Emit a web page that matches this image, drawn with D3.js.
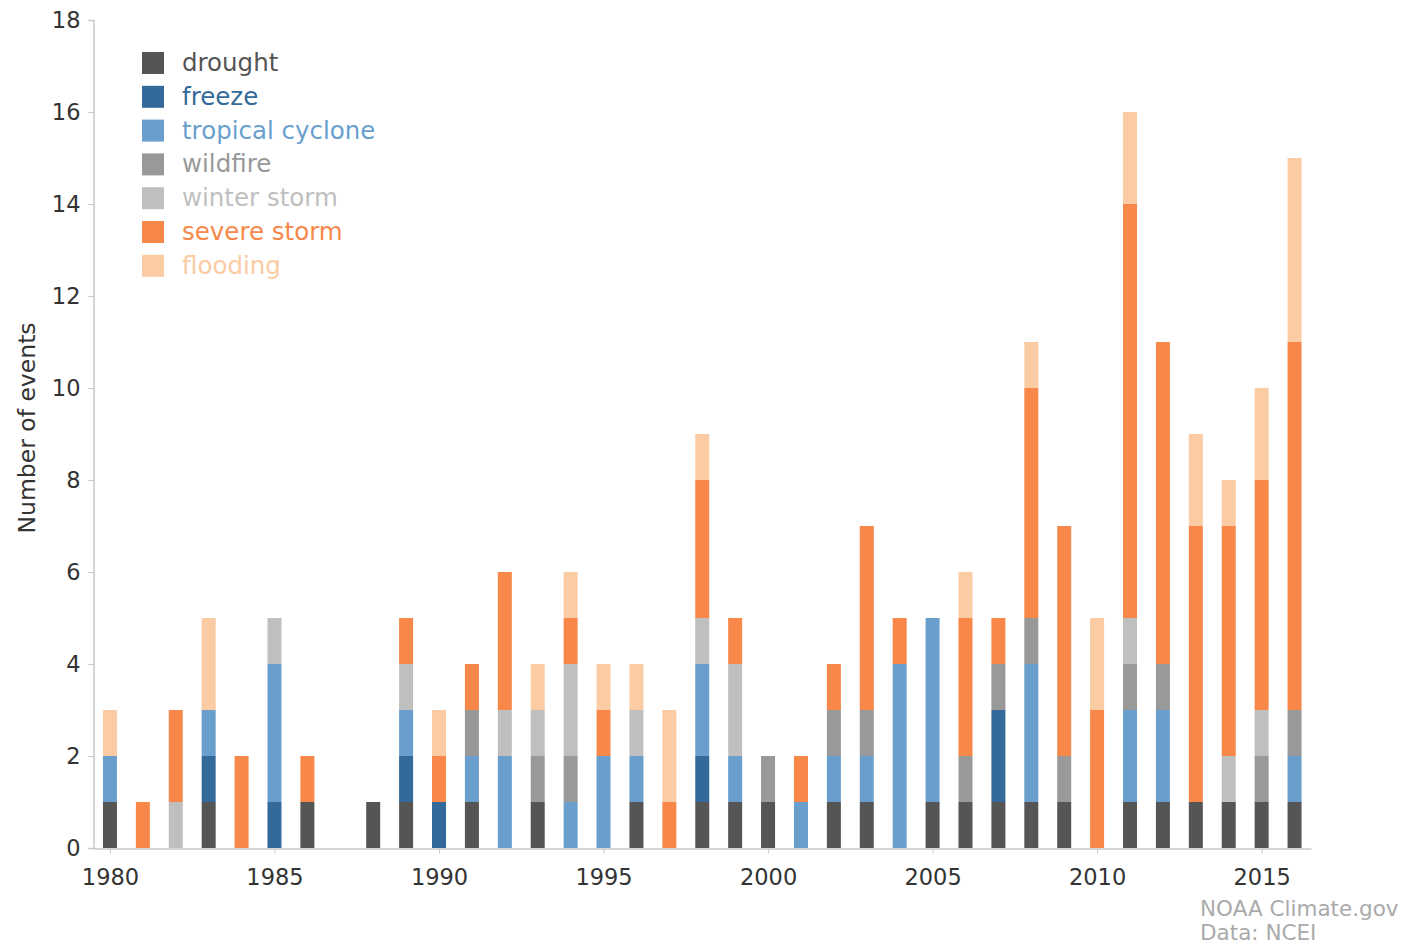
<!DOCTYPE html>
<html><head><meta charset="utf-8">
<script src="https://cdn.jsdelivr.net/npm/d3@7"></script>
<style>body{margin:0;background:#fff}svg{display:block}</style>
</head><body><svg id="c" width="1405" height="944"></svg>
<script>
const years = d3.range(1980, 2017);
const seriesNames = ["drought","freeze","tropical cyclone","wildfire","winter storm","severe storm","flooding"];
const seriesColors = ["#555555","#336a9a","#6a9fcd","#999999","#bfbfbf","#f8874a","#fbcba3"];
const drought    = [1,0,0,1,0,0,1,0,1,1,0,1,0,1,0,0,1,0,1,1,1,0,1,1,0,1,1,1,1,1,0,1,1,1,1,1,1];
const freeze     = [0,0,0,1,0,1,0,0,0,1,1,0,0,0,0,0,0,0,1,0,0,0,0,0,0,0,0,2,0,0,0,0,0,0,0,0,0];
const tropical   = [1,0,0,1,0,3,0,0,0,1,0,1,2,0,1,2,1,0,2,1,0,1,1,1,4,4,0,0,3,0,0,2,2,0,0,0,1];
const wildfire   = [0,0,0,0,0,0,0,0,0,0,0,1,0,1,1,0,0,0,0,0,1,0,1,1,0,0,1,1,1,1,0,1,1,0,0,1,1];
const winter     = [0,0,1,0,0,1,0,0,0,1,0,0,1,1,2,0,1,0,1,2,0,0,0,0,0,0,0,0,0,0,0,1,0,0,1,1,0];
const severe     = [0,1,2,0,2,0,1,0,0,1,1,1,3,0,1,1,0,1,3,1,0,1,1,4,1,0,3,1,5,5,3,9,7,6,5,5,8];
const flooding   = [1,0,0,2,0,0,0,0,0,0,1,0,0,1,1,1,1,2,1,0,0,0,0,0,0,0,1,0,1,0,2,2,0,2,1,2,4];
const yTicks = [0,2,4,6,8,10,12,14,16,18];
const xTicks = [1980,1985,1990,1995,2000,2005,2010,2015];

const seriesVals = [drought, freeze, tropical, wildfire, winter, severe, flooding];
const table = years.map((y,i)=>{const o={year:y}; seriesNames.forEach((n,k)=>o[n]=seriesVals[k][i]); return o;});
const stack = d3.stack().keys(seriesNames)(table);

const svg = d3.select("#c");
const x = d3.scaleLinear().domain([1979.5, 2016.5]).range([93.5, 1311]);
const y = d3.scaleLinear().domain([0, 18]).range([848, 20]);
const font = "'DejaVu Sans', Verdana, sans-serif";
const bw = 14;

const g = svg.append("g");
stack.forEach((s,k)=>{
  g.selectAll(null).data(s).enter().append("rect")
    .filter(d=>d[1]>d[0])
    .attr("x", d=>x(d.data.year)-bw/2)
    .attr("width", bw)
    .attr("y", d=>y(d[1]))
    .attr("height", d=>y(d[0])-y(d[1]))
    .attr("fill", seriesColors[k]);
});

// Y axis
const ya = svg.append("g").attr("transform","translate(93.5,0)")
  .call(d3.axisLeft(y).tickValues(yTicks).tickSize(5).tickPadding(8));
ya.select(".domain").attr("stroke","#c8c8c8").attr("stroke-width",1.5);
ya.selectAll(".tick line").attr("stroke","#c8c8c8");
ya.selectAll("text").attr("font-family",font).attr("font-size",22.5).attr("fill","#333");

// X axis
const xa = svg.append("g").attr("transform","translate(0,848.5)")
  .call(d3.axisBottom(x).tickValues(xTicks).tickFormat(d3.format("d")).tickSize(5).tickPadding(16).tickSizeOuter(0));
xa.select(".domain").attr("stroke","#c8c8c8").attr("stroke-width",1.5);
xa.selectAll(".tick line").attr("stroke","#c8c8c8");
xa.selectAll("text").attr("font-family",font).attr("font-size",22.5).attr("fill","#333");

// Y label
svg.append("text").attr("transform","translate(35,428) rotate(-90)")
  .attr("text-anchor","middle").attr("font-family",font).attr("font-size",23.5).attr("fill","#333")
  .text("Number of events");

// Legend
const lg = svg.append("g");
seriesNames.forEach((n,k)=>{
  const yy = 63 + k*33.8;
  lg.append("rect").attr("x",142).attr("y",yy-11).attr("width",22).attr("height",22).attr("fill",seriesColors[k]);
  lg.append("text").attr("x",182).attr("y",yy+8).attr("font-family",font).attr("font-size",24.5)
    .attr("fill",seriesColors[k]).text(n);
});

// Credits
svg.append("text").attr("x",1200).attr("y",916).attr("font-family",font).attr("font-size",21.5).attr("fill","#aaa").text("NOAA Climate.gov");
svg.append("text").attr("x",1200).attr("y",940).attr("font-family",font).attr("font-size",21.5).attr("fill","#aaa").text("Data: NCEI");
</script></body></html>
